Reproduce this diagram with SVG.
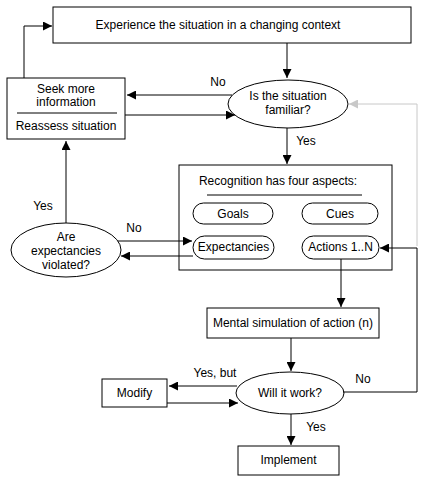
<svg xmlns="http://www.w3.org/2000/svg" width="423" height="481" viewBox="0 0 423 481">
<defs>
<marker id="ah" viewBox="0 0 10 10" refX="10" refY="5" markerWidth="9" markerHeight="9" markerUnits="userSpaceOnUse" orient="auto"><path d="M0,0 L10,5 L0,10 Z" fill="#000"/></marker>
<marker id="ahg" viewBox="0 0 10 10" refX="10" refY="5" markerWidth="9" markerHeight="9" markerUnits="userSpaceOnUse" orient="auto"><path d="M0,0 L10,5 L0,10 Z" fill="#c8c8c8"/></marker>
</defs>
<style>
rect,ellipse{fill:#fff;stroke:#000;stroke-width:1}
.pill{fill:#fff;stroke:#000;stroke-width:1}
.c{fill:none;stroke:#000;stroke-width:1}
.g{fill:none;stroke:#c8c8c8;stroke-width:1}
text{font-family:"Liberation Sans",Arial,sans-serif;font-size:12px;fill:#000}
.m{text-anchor:middle}
</style>
<rect width="423" height="481" style="fill:#fff;stroke:none"/>
<g id="experience">
<rect x="53" y="7" width="358" height="36"/>
<text x="218" y="29" class="m">Experience the situation in a changing context</text>
</g>
<g id="familiar">
<ellipse cx="288" cy="104" rx="60" ry="24"/>
<text x="288" y="100" class="m">Is the situation</text>
<text x="288" y="114" class="m">familiar?</text>
</g>
<g id="seek">
<rect x="7" y="78" width="118" height="61"/>
<text x="66" y="93" class="m">Seek more</text>
<text x="66" y="106" class="m">information</text>
<line x1="17" y1="113" x2="117" y2="113" class="c"/>
<text x="66" y="130" class="m">Reassess situation</text>
</g>
<g id="recognition">
<rect x="179" y="165" width="213" height="105"/>
<text x="278" y="185" class="m">Recognition has four aspects:</text>
<line x1="207" y1="195" x2="362" y2="195" class="c"/>
</g>
<g id="goals">
<rect class="pill" x="193" y="203" width="80" height="21" rx="10.5"/>
<text x="233" y="218" class="m">Goals</text>
</g>
<g id="cues">
<rect class="pill" x="302" y="203" width="76" height="21" rx="10.5"/>
<text x="340" y="218" class="m">Cues</text>
</g>
<g id="expectancies">
<rect class="pill" x="193" y="236" width="81" height="23" rx="11.5"/>
<text x="233.5" y="251" class="m">Expectancies</text>
</g>
<g id="actions">
<rect class="pill" x="302" y="236" width="77" height="23" rx="11.5"/>
<text x="340.5" y="251" class="m">Actions 1..N</text>
</g>
<g id="violated">
<ellipse cx="66" cy="250" rx="55" ry="27"/>
<text x="66" y="241" class="m">Are</text>
<text x="66" y="255" class="m">expectancies</text>
<text x="66" y="269" class="m">violated?</text>
</g>
<g id="mental">
<rect x="207" y="308" width="172" height="30"/>
<text x="293" y="327" class="m">Mental simulation of action (n)</text>
</g>
<g id="work">
<ellipse cx="290" cy="393" rx="54" ry="21"/>
<text x="290" y="397" class="m">Will it work?</text>
</g>
<g id="modify">
<rect x="102" y="379" width="65" height="28"/>
<text x="134.5" y="397" class="m">Modify</text>
</g>
<g id="implement">
<rect x="238" y="446" width="101" height="29"/>
<text x="288.5" y="464" class="m">Implement</text>
</g>
<g id="connectors">
<path class="c" d="M287,43 V78" marker-end="url(#ah)"/>
<path class="c" d="M232,95 H127" marker-end="url(#ah)"/>
<path class="c" d="M125,115 H235" marker-end="url(#ah)"/>
<path class="c" d="M24,78 V26 H52" marker-end="url(#ah)"/>
<path class="c" d="M287,128 V164" marker-end="url(#ah)"/>
<path class="c" d="M66,223 V141" marker-end="url(#ah)"/>
<path class="c" d="M118,241 H192" marker-end="url(#ah)"/>
<path class="c" d="M193,256 H121" marker-end="url(#ah)"/>
<path class="c" d="M341,259 V307" marker-end="url(#ah)"/>
<path class="c" d="M291,338 V371" marker-end="url(#ah)"/>
<path class="c" d="M237,386 H169" marker-end="url(#ah)"/>
<path class="c" d="M167,403 H238" marker-end="url(#ah)"/>
<path class="c" d="M343,392 H417 V248 H380" marker-end="url(#ah)"/>
<path class="g" d="M417,246 V104 H349" marker-end="url(#ahg)"/>
<path class="c" d="M291,414 V445" marker-end="url(#ah)"/>
<text x="218" y="86" class="m">No</text>
<text x="306" y="145" class="m">Yes</text>
<text x="43" y="210" class="m">Yes</text>
<text x="134" y="232" class="m">No</text>
<text x="215" y="377" class="m">Yes, but</text>
<text x="363" y="383" class="m">No</text>
<text x="316" y="431" class="m">Yes</text>
</g>
</svg>
